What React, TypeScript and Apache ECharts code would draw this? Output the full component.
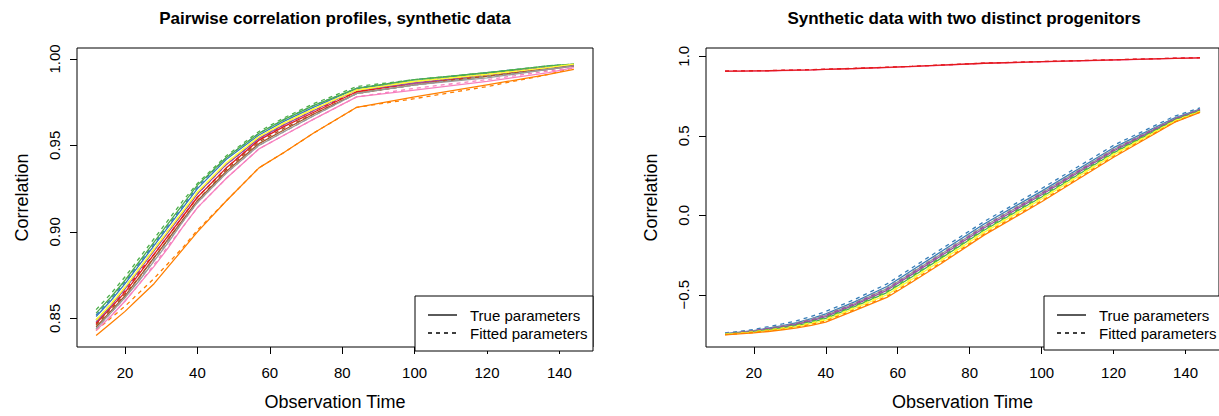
import React, { useEffect, useRef } from "react";
import * as echarts from "echarts";

// Observation times (x)
const times = [12, 16, 20, 24, 28, 32, 36, 40, 48, 57, 64, 72, 84, 100, 120, 137, 144];

// ColorBrewer Set1
const COLORS: Record<string, string> = {
  red: "#E41A1C",
  blue: "#377EB8",
  green: "#4DAF4A",
  purple: "#984EA3",
  orange: "#FF7F00",
  yellow: "#FFFF33",
  brown: "#A65628",
  pink: "#F781BF",
  grey: "#999999",
};

// ---- Left panel: pairwise correlation profiles ----
const leftGreenTrue = [0.853, 0.862, 0.872, 0.883, 0.894, 0.905, 0.916, 0.927, 0.943, 0.957, 0.965, 0.973, 0.983, 0.988, 0.992, 0.996, 0.997];
const leftGreenFit = [0.855, 0.864, 0.874, 0.885, 0.896, 0.907, 0.918, 0.928, 0.944, 0.958, 0.966, 0.974, 0.984, 0.988, 0.992, 0.996, 0.997];
const leftBlueTrue = [0.851, 0.86, 0.87, 0.881, 0.892, 0.903, 0.914, 0.925, 0.942, 0.956, 0.964, 0.972, 0.983, 0.987, 0.992, 0.995, 0.997];
const leftBlueFit = [0.852, 0.861, 0.871, 0.882, 0.893, 0.904, 0.915, 0.926, 0.943, 0.957, 0.965, 0.973, 0.983, 0.988, 0.992, 0.996, 0.997];
const leftYellowTrue = [0.849, 0.858, 0.868, 0.879, 0.89, 0.901, 0.912, 0.923, 0.94, 0.955, 0.963, 0.971, 0.982, 0.987, 0.991, 0.995, 0.997];
const leftYellowFit = [0.849, 0.858, 0.868, 0.879, 0.89, 0.901, 0.912, 0.923, 0.94, 0.955, 0.963, 0.971, 0.982, 0.987, 0.991, 0.995, 0.997];
const leftPurpleTrue = [0.848, 0.857, 0.867, 0.878, 0.889, 0.9, 0.911, 0.922, 0.939, 0.954, 0.962, 0.97, 0.982, 0.986, 0.991, 0.995, 0.996];
const leftPurpleFit = [0.849, 0.858, 0.868, 0.879, 0.89, 0.901, 0.911, 0.922, 0.939, 0.954, 0.963, 0.971, 0.982, 0.987, 0.991, 0.995, 0.996];
const leftRedTrue = [0.847, 0.856, 0.865, 0.876, 0.887, 0.898, 0.909, 0.92, 0.937, 0.953, 0.961, 0.969, 0.981, 0.986, 0.99, 0.995, 0.996];
const leftRedFit = [0.847, 0.856, 0.866, 0.877, 0.887, 0.898, 0.909, 0.92, 0.937, 0.953, 0.962, 0.97, 0.981, 0.986, 0.991, 0.995, 0.996];
const leftBrownTrue = [0.845, 0.854, 0.863, 0.874, 0.885, 0.896, 0.907, 0.918, 0.935, 0.951, 0.959, 0.968, 0.98, 0.985, 0.99, 0.994, 0.996];
const leftBrownFit = [0.846, 0.855, 0.864, 0.874, 0.885, 0.896, 0.907, 0.918, 0.936, 0.952, 0.96, 0.968, 0.98, 0.985, 0.99, 0.994, 0.996];
const leftGreyTrue = [0.844, 0.853, 0.862, 0.872, 0.883, 0.894, 0.906, 0.917, 0.934, 0.95, 0.958, 0.967, 0.98, 0.985, 0.989, 0.994, 0.996];
const leftGreyFit = [0.844, 0.853, 0.862, 0.873, 0.884, 0.895, 0.906, 0.917, 0.934, 0.95, 0.958, 0.967, 0.98, 0.985, 0.99, 0.994, 0.996];
const leftPinkTrue = [0.843, 0.851, 0.86, 0.87, 0.88, 0.891, 0.903, 0.914, 0.931, 0.948, 0.956, 0.965, 0.978, 0.982, 0.987, 0.992, 0.995];
const leftPinkFit = [0.843, 0.851, 0.86, 0.87, 0.881, 0.892, 0.903, 0.914, 0.931, 0.948, 0.956, 0.965, 0.978, 0.983, 0.988, 0.993, 0.995];
const leftOrangeTrue = [0.84, 0.847, 0.854, 0.862, 0.87, 0.88, 0.89, 0.9, 0.918, 0.937, 0.946, 0.957, 0.972, 0.978, 0.985, 0.991, 0.994];
const leftOrangeFit = [0.843, 0.85, 0.857, 0.865, 0.873, 0.882, 0.891, 0.901, 0.918, 0.937, 0.946, 0.957, 0.972, 0.977, 0.984, 0.991, 0.995];

// ---- Right panel: two distinct progenitors ----
const rightRedTrue = [0.906, 0.907, 0.908, 0.909, 0.911, 0.913, 0.915, 0.918, 0.923, 0.93, 0.936, 0.944, 0.956, 0.966, 0.977, 0.987, 0.99];
const rightRedFit = [0.907, 0.908, 0.909, 0.91, 0.912, 0.914, 0.916, 0.919, 0.924, 0.931, 0.937, 0.945, 0.957, 0.967, 0.978, 0.988, 0.991];
const rightPinkTrue = [0.905, 0.906, 0.907, 0.908, 0.91, 0.912, 0.914, 0.917, 0.922, 0.929, 0.935, 0.943, 0.955, 0.965, 0.976, 0.987, 0.99];
const rightPinkFit = [0.906, 0.907, 0.908, 0.909, 0.911, 0.913, 0.915, 0.918, 0.923, 0.93, 0.936, 0.944, 0.956, 0.966, 0.977, 0.988, 0.991];
const rightBlueTrue = [-0.744, -0.735, -0.725, -0.71, -0.694, -0.676, -0.65, -0.62, -0.545, -0.448, -0.346, -0.23, -0.055, 0.152, 0.425, 0.612, 0.668];
const rightBlueFit = [-0.74, -0.73, -0.718, -0.701, -0.683, -0.663, -0.636, -0.605, -0.53, -0.432, -0.33, -0.214, -0.04, 0.168, 0.44, 0.624, 0.675];
const rightGreyTrue = [-0.746, -0.737, -0.728, -0.714, -0.699, -0.682, -0.658, -0.63, -0.556, -0.462, -0.361, -0.245, -0.069, 0.139, 0.413, 0.607, 0.664];
const rightGreyFit = [-0.745, -0.735, -0.725, -0.71, -0.694, -0.677, -0.652, -0.624, -0.55, -0.456, -0.355, -0.239, -0.063, 0.145, 0.419, 0.61, 0.666];
const rightPurpleTrue = [-0.747, -0.739, -0.73, -0.717, -0.704, -0.687, -0.665, -0.638, -0.564, -0.472, -0.372, -0.256, -0.08, 0.129, 0.404, 0.603, 0.661];
const rightPurpleFit = [-0.745, -0.736, -0.726, -0.712, -0.698, -0.68, -0.658, -0.63, -0.556, -0.464, -0.364, -0.248, -0.072, 0.137, 0.411, 0.607, 0.664];
const rightGreenTrue = [-0.748, -0.741, -0.733, -0.722, -0.709, -0.694, -0.673, -0.649, -0.575, -0.486, -0.387, -0.271, -0.094, 0.115, 0.392, 0.597, 0.656];
const rightGreenFit = [-0.747, -0.739, -0.73, -0.718, -0.705, -0.689, -0.667, -0.643, -0.569, -0.48, -0.381, -0.265, -0.088, 0.121, 0.397, 0.6, 0.658];
const rightYellowTrue = [-0.75, -0.743, -0.736, -0.726, -0.714, -0.7, -0.682, -0.659, -0.586, -0.5, -0.402, -0.286, -0.108, 0.102, 0.38, 0.592, 0.652];
const rightYellowFit = [-0.749, -0.741, -0.733, -0.722, -0.709, -0.695, -0.676, -0.653, -0.58, -0.494, -0.396, -0.28, -0.102, 0.108, 0.386, 0.595, 0.654];
const rightOrangeTrue = [-0.752, -0.746, -0.74, -0.731, -0.721, -0.708, -0.692, -0.672, -0.6, -0.517, -0.42, -0.305, -0.125, 0.085, 0.365, 0.585, 0.647];
const rightOrangeFit = [-0.751, -0.744, -0.737, -0.727, -0.716, -0.703, -0.686, -0.665, -0.593, -0.51, -0.413, -0.298, -0.118, 0.091, 0.371, 0.588, 0.649];

// tick labels
const xTicks = [20, 40, 60, 80, 100, 120, 140];
const leftYTicks = [0.85, 0.9, 0.95, 1.0];
const rightYTicks = [-0.5, 0.0, 0.5, 1.0];

const leftSets: [string, number[], number[]][] = [
  ["red", leftRedTrue, leftRedFit],
  ["blue", leftBlueTrue, leftBlueFit],
  ["green", leftGreenTrue, leftGreenFit],
  ["purple", leftPurpleTrue, leftPurpleFit],
  ["orange", leftOrangeTrue, leftOrangeFit],
  ["yellow", leftYellowTrue, leftYellowFit],
  ["brown", leftBrownTrue, leftBrownFit],
  ["pink", leftPinkTrue, leftPinkFit],
  ["grey", leftGreyTrue, leftGreyFit],
];
const rightSets: [string, number[], number[]][] = [
  ["pink", rightPinkTrue, rightPinkFit],
  ["red", rightRedTrue, rightRedFit],
  ["blue", rightBlueTrue, rightBlueFit],
  ["grey", rightGreyTrue, rightGreyFit],
  ["purple", rightPurpleTrue, rightPurpleFit],
  ["green", rightGreenTrue, rightGreenFit],
  ["yellow", rightYellowTrue, rightYellowFit],
  ["orange", rightOrangeTrue, rightOrangeFit],
];

const FONT = "'Liberation Sans', Arial, Helvetica, sans-serif";

function makeSeries(sets: [string, number[], number[]][], idx: number) {
  const out: any[] = [];
  sets.forEach(([c, tr, ft]) => {
    out.push({
      type: "line",
      xAxisIndex: idx,
      yAxisIndex: idx,
      data: times.map((t, i) => [t, tr[i]]),
      showSymbol: false,
      symbol: "none",
      lineStyle: { color: COLORS[c], width: 1.3, type: "solid" },
      z: 3,
    });
    out.push({
      type: "line",
      xAxisIndex: idx,
      yAxisIndex: idx,
      data: times.map((t, i) => [t, ft[i]]),
      showSymbol: false,
      symbol: "none",
      lineStyle: { color: COLORS[c], width: 1.3, type: [4, 4] },
      z: 3,
    });
  });
  return out;
}

function xAxisCfg(gridIndex: number) {
  return {
    type: "value",
    gridIndex,
    min: 6.72,
    max: 149.28,
    axisLine: { show: false, onZero: false },
    splitLine: { show: false },
    axisTick: {
      show: true,
      inside: false,
      length: 7,
      customValues: xTicks,
      lineStyle: { color: "#000", width: 1 },
    },
    axisLabel: {
      show: true,
      customValues: xTicks,
      margin: 18,
      color: "#000",
      fontSize: 15,
      fontFamily: FONT,
    },
    name: "Observation Time",
    nameLocation: "middle",
    nameGap: 46,
    nameTextStyle: { color: "#000", fontSize: 18, fontFamily: FONT },
  };
}

function yAxisCfg(gridIndex: number, min: number, max: number, ticks: number[], digits: number) {
  return {
    type: "value",
    gridIndex,
    min,
    max,
    axisLine: { show: false, onZero: false },
    splitLine: { show: false },
    axisTick: {
      show: true,
      inside: false,
      length: 7,
      customValues: ticks,
      lineStyle: { color: "#000", width: 1 },
    },
    axisLabel: {
      show: true,
      customValues: ticks,
      rotate: 90,
      margin: 15,
      color: "#000",
      fontSize: 15,
      fontFamily: FONT,
      formatter: (v: number) => {
        const s = Math.abs(v).toFixed(digits);
        return v < -1e-9 ? "\u2212" + s : s;
      },
    },
    name: "Correlation",
    nameLocation: "middle",
    nameGap: 46,
    nameTextStyle: { color: "#000", fontSize: 18, fontFamily: FONT },
  };
}

function legendGroup(x0: number, x1: number, y0: number, y1: number) {
  return {
    type: "group",
    children: [
      {
        type: "rect",
        shape: { x: x0, y: y0, width: x1 - x0, height: y1 - y0 },
        style: { fill: "#fff", stroke: "#000", lineWidth: 1 },
        z: 10,
      },
      {
        type: "line",
        shape: { x1: x0 + 13, y1: y0 + 19, x2: x0 + 42, y2: y0 + 19 },
        style: { stroke: "#000", lineWidth: 1.3 },
        z: 11,
      },
      {
        type: "line",
        shape: { x1: x0 + 13, y1: y0 + 37, x2: x0 + 42, y2: y0 + 37 },
        style: { stroke: "#000", lineWidth: 1.3, lineDash: [4, 4] },
        z: 11,
      },
      {
        type: "text",
        x: x0 + 55,
        y: y0 + 19,
        style: { text: "True parameters", font: `15px ${FONT}`, fill: "#000", textVerticalAlign: "middle" },
        z: 11,
      },
      {
        type: "text",
        x: x0 + 55,
        y: y0 + 37,
        style: { text: "Fitted parameters", font: `15px ${FONT}`, fill: "#000", textVerticalAlign: "middle" },
        z: 11,
      },
    ],
  };
}

export default function App() {
  const ref = useRef<HTMLDivElement>(null);
  useEffect(() => {
    if (!ref.current) return;
    const chart = echarts.init(ref.current, null, { renderer: "svg" });
    const option: any = {
      animation: false,
      backgroundColor: "#fff",
      grid: [
        { left: 77, top: 48, width: 516, height: 303, show: true, borderColor: "#000", borderWidth: 1, backgroundColor: "transparent" },
        { left: 706, top: 48, width: 516, height: 302, show: true, borderColor: "#000", borderWidth: 1, backgroundColor: "transparent" },
      ],
      xAxis: [xAxisCfg(0), xAxisCfg(1)],
      yAxis: [
        yAxisCfg(0, 0.8334, 1.0063, leftYTicks, 2),
        yAxisCfg(1, -0.8286, 1.052, rightYTicks, 1),
      ],
      series: [...makeSeries(leftSets, 0), ...makeSeries(rightSets, 1)],
      graphic: [
        {
          type: "text",
          x: 335,
          y: 18,
          style: {
            text: "Pairwise correlation profiles, synthetic data",
            font: `bold 17px ${FONT}`,
            fill: "#000",
            textAlign: "center",
            textVerticalAlign: "middle",
          },
        },
        {
          type: "text",
          x: 964,
          y: 18,
          style: {
            text: "Synthetic data with two distinct progenitors",
            font: `bold 17px ${FONT}`,
            fill: "#000",
            textAlign: "center",
            textVerticalAlign: "middle",
          },
        },
        legendGroup(415, 593, 296, 351),
        legendGroup(1044, 1222, 296, 350),
      ],
    };
    chart.setOption(option);
    return () => chart.dispose();
  }, []);
  return (
    <div
      ref={ref}
      style={{ position: "absolute", left: 0, top: 0, width: 1219, height: 416 }}
    />
  );
}
